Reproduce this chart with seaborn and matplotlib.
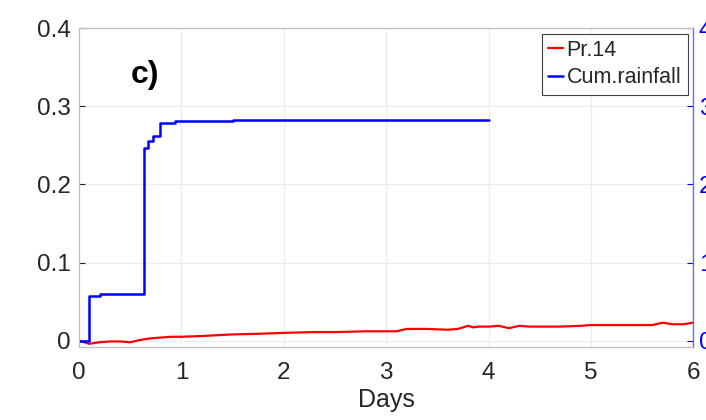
import matplotlib
matplotlib.use("Agg")
import matplotlib.pyplot as plt
import numpy as np
import pandas as pd
import seaborn as sns

# Pr.14 (left axis)
pr_days = [0.0, 0.05, 0.1, 0.15, 0.2, 0.3, 0.4, 0.5, 0.6, 0.7, 0.8, 0.9, 1.0, 1.2, 1.5, 1.8, 2.0,
           2.3, 2.5, 2.8, 3.0, 3.1, 3.2, 3.4, 3.6, 3.7, 3.8, 3.85, 3.9, 4.0, 4.1, 4.2, 4.3, 4.4,
           4.5, 4.7, 4.9, 5.0, 5.2, 5.4, 5.6, 5.7, 5.8, 5.9, 6.0]
pr_values = [0.0, -0.002, -0.004, -0.003, -0.002, -0.001, -0.001, -0.002, 0.001, 0.003, 0.004, 0.005,
             0.005, 0.006, 0.008, 0.009, 0.010, 0.011, 0.011, 0.012, 0.012, 0.012, 0.015, 0.015,
             0.014, 0.015, 0.019, 0.017, 0.018, 0.018, 0.019, 0.016, 0.019, 0.018, 0.018, 0.018,
             0.019, 0.020, 0.020, 0.020, 0.020, 0.023, 0.021, 0.021, 0.023]

# Cumulative rainfall (right axis)
rain_days = [0.0, 0.09, 0.1, 0.2, 0.62, 0.63, 0.67, 0.72, 0.79, 0.94, 1.5, 4.0]
rain_values = [0.0, 0.0, 0.57, 0.6, 0.6, 2.47, 2.55, 2.62, 2.78, 2.81, 2.82, 2.82]

left_ticks = [0, 0.1, 0.2, 0.3, 0.4]
right_ticks = [0, 1, 2, 3, 4]
day_ticks = [0, 1, 2, 3, 4, 5, 6]

sns.set_style("whitegrid")
plt.rcParams["font.family"] = ["Liberation Sans", "DejaVu Sans"]

fig = plt.figure(figsize=(7.06, 4.2), dpi=100)
ax = fig.add_axes([0.112, 0.174, 0.87, 0.759])
ax2 = ax.twinx()

pr_df = pd.DataFrame({"Days": pr_days, "Pr.14": pr_values})
rain_df = pd.DataFrame({"Days": rain_days, "Cum.rainfall": rain_values})

sns.lineplot(data=pr_df, x="Days", y="Pr.14", ax=ax, color="#ff0000", linewidth=1.6, label="Pr.14", legend=False)
sns.lineplot(data=rain_df, x="Days", y="Cum.rainfall", ax=ax2, color="#0000ff", linewidth=1.8,
             drawstyle="steps-post", label="Cum.rainfall", legend=False)

ax.set_xlim(0, 6)
ax.set_ylim(-0.008, 0.4)
ax2.set_ylim(-0.08, 4)
ax.set_xticks(day_ticks)
ax.set_yticks(left_ticks)
ax.set_yticklabels(["0", "0.1", "0.2", "0.3", "0.4"])
ax2.set_yticks(right_ticks)
ax2.grid(False)
ax.grid(True, color="#ececec", linewidth=0.8)

ax.set_xlabel("Days", fontsize=18, color="#262626", labelpad=3)
ax.set_ylabel("")
ax2.set_ylabel("")
ax.tick_params(axis="both", labelsize=17.5, colors="#262626", direction="in", length=4)
ax.tick_params(axis="x", pad=11)
ax.tick_params(axis="y", pad=6)
ax2.tick_params(axis="y", labelsize=17.5, colors="#0000ff", direction="in", length=4, pad=4)

for sp in ["left", "bottom", "top"]:
    ax.spines[sp].set_color("#bdbdbd")
    ax2.spines[sp].set_color("#bdbdbd")
ax.spines["right"].set_visible(False)
ax2.spines["right"].set_color("#6b6bff")
ax2.spines["right"].set_linewidth(1.0)

ax.text(0.64, 0.34, "c)", fontsize=23, fontweight="bold", ha="center", va="center", color="black")

h1, l1 = ax.get_legend_handles_labels()
h2, l2 = ax2.get_legend_handles_labels()
leg = ax2.legend(h1 + h2, l1 + l2, loc="upper right", fontsize=15.5, handlelength=0.7, handletextpad=0.15,
                 borderpad=0.3, labelspacing=0.3, fancybox=False, framealpha=1, borderaxespad=0.25)
leg.get_frame().set_edgecolor("#404040")
leg.get_frame().set_linewidth(0.8)
for t in leg.get_texts():
    t.set_color("#262626")

fig.savefig("out.png", dpi=100)
